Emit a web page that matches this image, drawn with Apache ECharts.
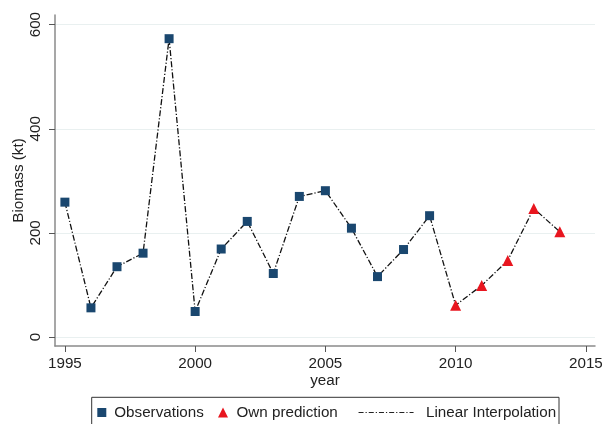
<!DOCTYPE html>
<html>
<head>
<meta charset="utf-8">
<script src="https://cdn.jsdelivr.net/npm/echarts@6/dist/echarts.min.js"></script>
<style>
html,body{margin:0;padding:0;background:#fff;}
#c{width:603px;height:424px;}
</style>
</head>
<body>
<div id="c"></div>
<script>
// Data
const obsYears = [1995,1996,1997,1998,1999,2000,2001,2002,2003,2004,2005,2006,2007,2008,2009];
const obsValues = [259,56,135,161,573,49,169,222,122,270,281,209,116,168,233];
const predYears = [2010,2011,2012,2013,2014];
const predValues = [61,99,147,247,202];
const xTicks = [1995,2000,2005,2010,2015];
const yTicks = [0,200,400,600];

const obsData = obsYears.map((y,i)=>[y,obsValues[i]]);
const predData = predYears.map((y,i)=>[y,predValues[i]]);
const lineData = obsData.concat(predData);

const FONT = 'Liberation Sans, Arial, Helvetica, sans-serif';
const FS = 15.2;
const dashDot = [6,2,1.2,2];

const chart = echarts.init(document.getElementById('c'), null, {renderer:'canvas'});
chart.setOption({
  animation:false,
  backgroundColor:'#fff',
  grid:{left:55, right:8, top:15, bottom:78, containLabel:false, outerBoundsMode:'none'},
  xAxis:{
    type:'value', min:1994.62, max:2015.35,
    name:'year', nameLocation:'middle', nameGap:27.5, nameMoveOverlap:false,
    nameTextStyle:{fontFamily:FONT, fontSize:FS, color:'#222'},
    axisLine:{show:true, onZero:false, lineStyle:{color:'#8a8a8a', width:1.5}},
    axisTick:{show:true, length:6, customValues:xTicks, lineStyle:{color:'#555', width:1}},
    axisLabel:{customValues:xTicks, margin:10, fontFamily:FONT, fontSize:FS, color:'#222',
      showMinLabel:true, showMaxLabel:true, formatter:(v)=>String(v)},
    splitLine:{show:false}
  },
  yAxis:{
    type:'value', min:-17.3, max:618.5,
    name:'Biomass (kt)', nameLocation:'middle', nameGap:29, nameMoveOverlap:false,
    nameTextStyle:{fontFamily:FONT, fontSize:FS, color:'#222'},
    axisLine:{show:true, onZero:false, lineStyle:{color:'#8a8a8a', width:1.5}},
    axisTick:{show:true, length:6, customValues:yTicks, lineStyle:{color:'#555', width:1}},
    axisLabel:{customValues:yTicks, rotate:90, margin:12, fontFamily:FONT, fontSize:FS, color:'#222', formatter:(v)=>String(v)},
    splitLine:{show:true, lineStyle:{color:'#e9f0f0', width:1.2}}
  },
  legend:[
    {data:[{name:'Observations', icon:'rect'}], left:97.3, top:405, padding:0,
     itemWidth:9, itemHeight:9, textStyle:{fontFamily:FONT, fontSize:FS, color:'#222', padding:[0,0,0,3]}},
    {data:[{name:'Own prediction', icon:'triangle'}], left:218, top:405, padding:0,
     itemWidth:10, itemHeight:10, textStyle:{fontFamily:FONT, fontSize:FS, color:'#222', padding:[0,0,0,3.5]}},
    {data:[{name:'Linear Interpolation', lineStyle:{type:[5,2,1.2,2], width:1.1, color:'#222'},
            itemStyle:{color:'rgba(0,0,0,0)', borderWidth:0, opacity:0}}], left:358, top:405, padding:0,
     itemWidth:55, itemHeight:10, textStyle:{fontFamily:FONT, fontSize:FS, color:'#222', padding:[0,0,0,7.5]}}
  ],
  graphic:[
    {type:'rect', shape:{x:91.7, y:397.3, width:467.3, height:40}, style:{fill:'none', stroke:'#333', lineWidth:1}, silent:true, z:-1}
  ],
  series:[
    {name:'Linear Interpolation', type:'line', data:lineData, symbol:'none', showSymbol:false,
     lineStyle:{color:'#111', width:1.3, type:dashDot}, z:1},
    {name:'Observations', type:'scatter', data:obsData, symbol:'rect', symbolSize:9,
     itemStyle:{color:'#1a476f', opacity:1}, z:3},
    {name:'Own prediction', type:'scatter', data:predData, symbol:'triangle', symbolSize:11,
     itemStyle:{color:'#e8161f', opacity:1}, z:3}
  ]
});
</script>
</body>
</html>
